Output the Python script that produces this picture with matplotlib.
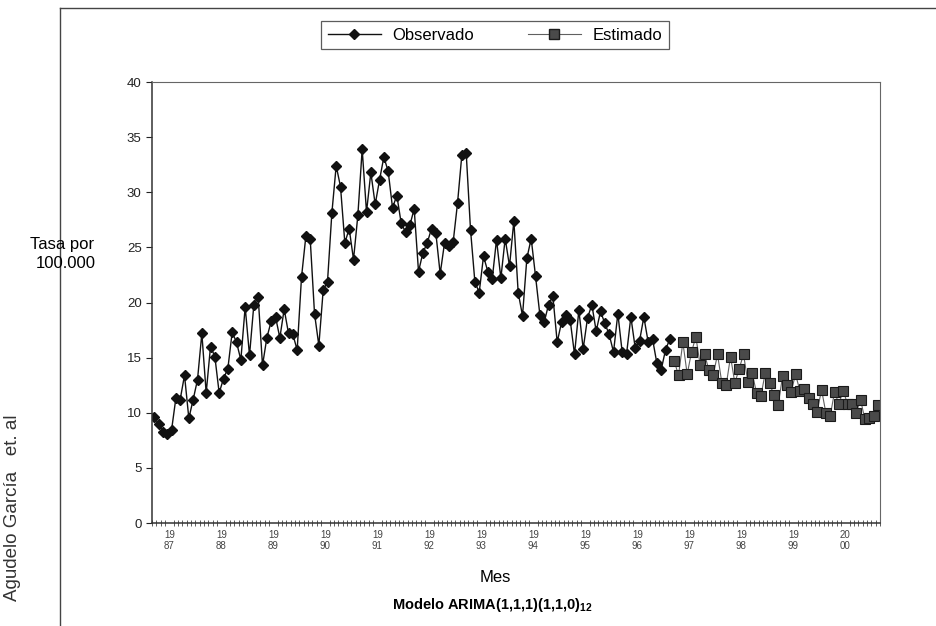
import numpy as np
import matplotlib
matplotlib.use('Agg')
from matplotlib import pyplot as plt
from matplotlib.lines import Line2D

plt.rcParams['font.family'] = ['Liberation Sans', 'DejaVu Sans']
plt.rcParams['mathtext.fontset'] = 'custom'
plt.rcParams['mathtext.rm'] = 'Liberation Sans'
plt.rcParams['mathtext.bf'] = 'Liberation Sans:bold'

# monthly rate per 100.000, observed 1987-1996
observado = [
    9.6, 9.0, 8.3, 8.1, 8.4, 11.3, 11.2, 13.4, 9.5, 11.2, 13.0, 17.2,
    11.8, 16.0, 15.1, 11.8, 13.1, 14.0, 17.3, 16.4, 14.8, 19.6, 15.2, 19.8,
    20.5, 14.3, 16.8, 18.3, 18.7, 16.8, 19.4, 17.2, 17.1, 15.7, 22.3, 26.0,
    25.8, 19.0, 16.1, 21.1, 21.9, 28.1, 32.4, 30.5, 25.4, 26.7, 23.9, 27.9,
    33.9, 28.2, 31.8, 28.9, 31.1, 33.2, 31.9, 28.6, 29.7, 27.2, 26.4, 27.0,
    28.5, 22.8, 24.5, 25.4, 26.7, 26.3, 22.6, 25.4, 25.1, 25.5, 29.0, 33.4,
    33.6, 26.6, 21.9, 20.9, 24.2, 22.8, 22.1, 25.7, 22.2, 25.8, 23.3, 27.4,
    20.9, 18.8, 24.0, 25.8, 22.4, 18.9, 18.2, 19.8, 20.6, 16.4, 18.2, 18.9,
    18.4, 15.3, 19.3, 15.8, 18.6, 19.8, 17.4, 19.2, 18.1, 17.1, 15.5, 19.0,
    15.5, 15.3, 18.7, 15.9, 16.5, 18.7, 16.4, 16.7, 14.5, 13.9, 15.7, 16.7,
]

# ARIMA estimate 1997-2000
estimado = [
    14.7, 13.4, 16.4, 13.5, 15.5, 16.9, 14.3, 15.3, 13.9, 13.4, 15.3, 12.7,
    12.5, 15.1, 12.7, 14.0, 15.3, 12.8, 13.6, 11.8, 11.5, 13.6, 12.7, 11.6,
    10.7, 13.3, 12.5, 11.9, 13.5, 12.0, 12.2, 11.3, 10.8, 10.1, 12.1, 10.0,
    9.7, 11.9, 10.8, 12.0, 10.8, 10.8, 10.0, 11.2, 9.4, 9.5, 9.7, 10.7,
]

years = ['87', '88', '89', '90', '91', '92', '93', '94', '95', '96', '97', '98', '99', '00']
centuries = ['19'] * 13 + ['20']

x_obs = np.arange(1, len(observado) + 1)
x_est = np.arange(len(observado) + 1, len(observado) + len(estimado) + 1)

fig = plt.figure(figsize=(9.36, 6.26), dpi=100)
ax = fig.add_axes([0.1624, 0.1645, 0.7778, 0.7045])

ax.plot(x_obs, observado, color='#111111', linewidth=1.0, marker='D', markersize=5,
        markerfacecolor='#111111', markeredgecolor='#111111')
ax.plot(x_est, estimado, color='#606060', linewidth=0.8, marker='s', markersize=6.8,
        markerfacecolor='#4a4a4a', markeredgecolor='#1a1a1a', markeredgewidth=0.8)

ax.set_xlim(0.5, 168.5)
ax.set_ylim(0, 40)
ax.set_yticks(np.arange(0, 41, 5))
ax.tick_params(axis='y', direction='out', length=4, labelsize=9.5, colors='#222222')

# year labels below, month ticks along the axis
label_pos = [4.5 + 12 * k for k in range(len(years))]
ax.set_xticks(label_pos)
ax.set_xticklabels(['{}\n{}'.format(c, y) for c, y in zip(centuries, years)],
                   fontsize=7, color='#444444', linespacing=1.1)
ax.tick_params(axis='x', which='major', length=0, pad=5)
ax.set_xticks(np.arange(0.5, 169, 1), minor=True)
ax.tick_params(axis='x', which='minor', direction='inout', length=4, width=0.6, color='#444444')

for side in ['top', 'right']:
    ax.spines[side].set_color('#666666')
for side in ['left', 'bottom']:
    ax.spines[side].set_color('#333333')
    ax.spines[side].set_linewidth(1.1)

handles = [
    Line2D([], [], color='#111111', linewidth=1.0, marker='D', markersize=5),
    Line2D([], [], color='#606060', linewidth=0.8, marker='s', markersize=6.8,
           markerfacecolor='#4a4a4a', markeredgecolor='#1a1a1a'),
]
leg = fig.legend(handles, ['Observado', 'Estimado'], loc='center',
                 bbox_to_anchor=(495 / 936, 1 - 35 / 626), ncol=2, fontsize=12,
                 frameon=True, fancybox=False, edgecolor='#333333', handlelength=3.2,
                 handletextpad=0.7, columnspacing=3.2, borderpad=0.4, borderaxespad=0)
leg.get_frame().set_linewidth(0.9)

fig.text(62 / 936, 1 - 245 / 626, 'Tasa por', ha='center', va='center', fontsize=12)
fig.text(66 / 936, 1 - 263 / 626, '100.000', ha='center', va='center', fontsize=12)
fig.text(495 / 936, 1 - 578 / 626, 'Mes', ha='center', va='center', fontsize=12)
fig.text(492 / 936, 1 - 605 / 626, r'Modelo ARIMA(1,1,1)(1,1,0)$_{\mathbf{12}}$', ha='center', va='center',
         fontsize=10.5, fontweight='bold')
fig.text(13 / 936, 1 - 508 / 626, 'Agudelo García   et. al', ha='center', va='center',
         rotation=90, fontsize=13.5, color='#333333')

# outer chart frame
fig.add_artist(Line2D([60 / 936, 60 / 936], [0, 1 - 8 / 626], transform=fig.transFigure,
                      color='#444444', linewidth=1))
fig.add_artist(Line2D([60 / 936, 1], [1 - 8 / 626, 1 - 8 / 626], transform=fig.transFigure,
                      color='#444444', linewidth=1))

plt.savefig('out.png', dpi=100)
plt.close('all')
